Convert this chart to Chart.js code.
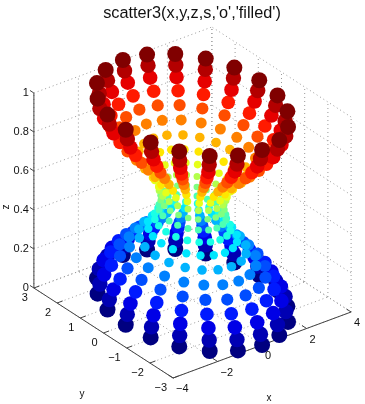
<!DOCTYPE html>
<html>
<head>
<meta charset="utf-8">
<script src="https://cdn.jsdelivr.net/npm/chart.js@4"></script>
<style>
  html, body { margin: 0; padding: 0; background: #fff; }
  canvas { display: block; }
</style>
</head>
<body>
<canvas id="scatter3" width="365" height="404"></canvas>
<script>
// rings, widest (rim) first, neck last
const ringX = [
  [3,2.85,2.43,1.76,.93,0,-.93,-1.76,-2.43,-2.85,-3,-2.85,-2.43,-1.76,-.93,0,.93,1.76,2.43,2.85],
  [2.93,2.79,2.37,1.72,.91,0,-.91,-1.72,-2.37,-2.79,-2.93,-2.79,-2.37,-1.72,-.91,0,.91,1.72,2.37,2.79],
  [2.79,2.65,2.26,1.64,.86,0,-.86,-1.64,-2.26,-2.65,-2.79,-2.65,-2.26,-1.64,-.86,0,.86,1.64,2.26,2.65],
  [2.56,2.43,2.07,1.51,.79,0,-.79,-1.51,-2.07,-2.43,-2.56,-2.43,-2.07,-1.51,-.79,0,.79,1.51,2.07,2.43],
  [2.29,2.18,1.85,1.35,.71,0,-.71,-1.35,-1.85,-2.18,-2.29,-2.18,-1.85,-1.35,-.71,0,.71,1.35,1.85,2.18],
  [1.99,1.89,1.61,1.17,.61,0,-.61,-1.17,-1.61,-1.89,-1.99,-1.89,-1.61,-1.17,-.61,0,.61,1.17,1.61,1.89],
  [1.68,1.6,1.36,.99,.52,0,-.52,-.99,-1.36,-1.6,-1.68,-1.6,-1.36,-.99,-.52,0,.52,.99,1.36,1.6],
  [1.4,1.33,1.13,.82,.43,0,-.43,-.82,-1.13,-1.33,-1.4,-1.33,-1.13,-.82,-.43,0,.43,.82,1.13,1.33],
  [1.19,1.13,.96,.7,.37,0,-.37,-.7,-.96,-1.13,-1.19,-1.13,-.96,-.7,-.37,0,.37,.7,.96,1.13],
  [1.05,1,.85,.62,.32,0,-.32,-.62,-.85,-1,-1.05,-1,-.85,-.62,-.32,0,.32,.62,.85,1],
  [1,.95,.81,.59,.31,0,-.31,-.59,-.81,-.95,-1,-.95,-.81,-.59,-.31,0,.31,.59,.81,.95]
];
const ringY = [
  [0,.93,1.76,2.43,2.85,3,2.85,2.43,1.76,.93,0,-.93,-1.76,-2.43,-2.85,-3,-2.85,-2.43,-1.76,-.93],
  [0,.91,1.72,2.37,2.79,2.93,2.79,2.37,1.72,.91,0,-.91,-1.72,-2.37,-2.79,-2.93,-2.79,-2.37,-1.72,-.91],
  [0,.86,1.64,2.26,2.65,2.79,2.65,2.26,1.64,.86,0,-.86,-1.64,-2.26,-2.65,-2.79,-2.65,-2.26,-1.64,-.86],
  [0,.79,1.51,2.07,2.43,2.56,2.43,2.07,1.51,.79,0,-.79,-1.51,-2.07,-2.43,-2.56,-2.43,-2.07,-1.51,-.79],
  [0,.71,1.35,1.85,2.18,2.29,2.18,1.85,1.35,.71,0,-.71,-1.35,-1.85,-2.18,-2.29,-2.18,-1.85,-1.35,-.71],
  [0,.61,1.17,1.61,1.89,1.99,1.89,1.61,1.17,.61,0,-.61,-1.17,-1.61,-1.89,-1.99,-1.89,-1.61,-1.17,-.61],
  [0,.52,.99,1.36,1.6,1.68,1.6,1.36,.99,.52,0,-.52,-.99,-1.36,-1.6,-1.68,-1.6,-1.36,-.99,-.52],
  [0,.43,.82,1.13,1.33,1.4,1.33,1.13,.82,.43,0,-.43,-.82,-1.13,-1.33,-1.4,-1.33,-1.13,-.82,-.43],
  [0,.37,.7,.96,1.13,1.19,1.13,.96,.7,.37,0,-.37,-.7,-.96,-1.13,-1.19,-1.13,-.96,-.7,-.37],
  [0,.32,.62,.85,1,1.05,1,.85,.62,.32,0,-.32,-.62,-.85,-1,-1.05,-1,-.85,-.62,-.32],
  [0,.31,.59,.81,.95,1,.95,.81,.59,.31,0,-.31,-.59,-.81,-.95,-1,-.95,-.81,-.59,-.31]
];
// z of each ring, upper bowl then lower bowl (lower stops one short of the neck)
const upperZ = [1, .95, .9, .85, .8, .75, .7, .65, .6, .55, .5];
const lowerZ = [0, .05, .1, .15, .2, .25, .3, .35, .4, .45];
const upperColors = ['#800000','#b30000','#e60000','#ff1a00','#ff4d00','#ff8000','#ffb300','#ffe600','#e6ff1a','#b3ff4d','#80ff80'];
const lowerColors = ['#000080','#0000b3','#0000e6','#001aff','#004dff','#0080ff','#00b3ff','#00e6ff','#1affe6','#4dffb3'];
const dotRadius = [8, 7.7, 7.3, 6.8, 6.1, 5.5, 4.8, 4.2, 3.8, 3.5, 3.3];

const xTicks = [-4, -2, 0, 2, 4];
const yTicks = [-3, -2, -1, 0, 1, 2, 3];
const zTicks = [0, .2, .4, .6, .8, 1];

// orthographic view of the box, gives canvas-like u/v values for the hidden scales
function project(x, y, z) {
  return { x: 192.5 + 22.25 * x - 23.2 * y, y: 300 - 8.25 * x - 15 * y - 195 * z };
}

function ringPoints(ring, z) {
  return ringX[ring].map((x, j) => project(x, ringY[ring][j], z));
}

function segments(list) {
  const pts = [];
  list.forEach(s => {
    pts.push(project(s[0], s[1], s[2]), project(s[3], s[4], s[5]), { x: NaN, y: NaN });
  });
  return pts;
}

const gridSegs = [];
zTicks.forEach(t => {
  gridSegs.push([4, -3, t, 4, 3, t], [-4, 3, t, 4, 3, t]);
});
xTicks.forEach(t => {
  gridSegs.push([t, -3, 0, t, 3, 0], [t, 3, 0, t, 3, 1]);
});
yTicks.forEach(t => {
  gridSegs.push([-4, t, 0, 4, t, 0], [4, t, 0, 4, t, 1]);
});

const axisSegs = [[-4, 3, 0, -4, 3, 1], [-4, -3, 0, 4, -3, 0], [-4, -3, 0, -4, 3, 0]];
xTicks.forEach(t => axisSegs.push([t, -3, 0, t, -2.8, 0]));
yTicks.forEach(t => axisSegs.push([-4, t, 0, -3.75, t, 0]));
zTicks.forEach(t => axisSegs.push([-4, 3, t, -4, 3.17, t]));

// first dataset ends up on top, so the rows go from z = 1 down to z = 0
const datasets = [];
upperZ.forEach((z, i) => {
  datasets.push({ data: ringPoints(i, z), backgroundColor: upperColors[i], pointRadius: dotRadius[i], pointBorderWidth: 0, clip: false });
});
lowerZ.slice().reverse().forEach((z, i) => {
  const ring = lowerZ.length - 1 - i;
  datasets.push({ data: ringPoints(ring, z), backgroundColor: lowerColors[ring], pointRadius: dotRadius[ring], pointBorderWidth: 0, clip: false });
});
datasets.push({ data: segments(axisSegs), showLine: true, borderColor: '#444', borderWidth: 1, pointRadius: 0, clip: false });
datasets.push({ data: segments(gridSegs), showLine: true, borderColor: '#999', borderWidth: 1, borderDash: [1, 3], pointRadius: 0, clip: false });

const tickText = {
  id: 'tickText',
  afterDraw(chart) {
    const ctx = chart.ctx;
    const sx = chart.scales.x;
    const sy = chart.scales.y;
    function put(p, dx, dy, text, align) {
      ctx.textAlign = align;
      ctx.fillText(text, sx.getPixelForValue(p.x) + dx, sy.getPixelForValue(p.y) + dy);
    }
    const fmt = t => String(t).replace('-', '\u2212');
    ctx.save();
    ctx.fillStyle = '#111';
    ctx.font = '11px "Liberation Sans"';
    ctx.textBaseline = 'middle';
    xTicks.forEach(t => put(project(t, -3, 0), 3, 11, fmt(t), 'left'));
    yTicks.forEach(t => put(project(-4, t, 0), -6, 10, fmt(t), 'right'));
    zTicks.forEach(t => put(project(-4, 3, t), -5, 0, fmt(t), 'right'));
    ctx.font = '10px "Liberation Sans"';
    ctx.textAlign = 'center';
    ctx.fillText('x', 269, 398);
    ctx.fillText('y', 82, 394);
    ctx.translate(6, 207);
    ctx.rotate(-Math.PI / 2);
    ctx.fillText('z', 0, 0);
    ctx.restore();
  }
};

new Chart(document.getElementById('scatter3').getContext('2d'), {
  type: 'scatter',
  data: { datasets: datasets },
  plugins: [tickText],
  options: {
    responsive: false,
    animation: false,
    // 8px is what the largest dots reserve on the other sides anyway
    layout: { padding: { left: 27, right: 8, bottom: 8 } },
    plugins: {
      legend: { display: false },
      tooltip: { enabled: false },
      title: {
        display: true,
        text: "scatter3(x,y,z,s,'o','filled')",
        color: '#111',
        fullSize: false,
        font: { family: 'Liberation Sans', size: 16.3, weight: 'normal', lineHeight: 1 },
        padding: { top: 5, bottom: 4.7 }
      }
    },
    scales: {
      x: { type: 'linear', display: false, min: 27, max: 357 },
      y: { type: 'linear', display: false, min: 26, max: 396, reverse: true }
    }
  }
});
</script>
</body>
</html>
